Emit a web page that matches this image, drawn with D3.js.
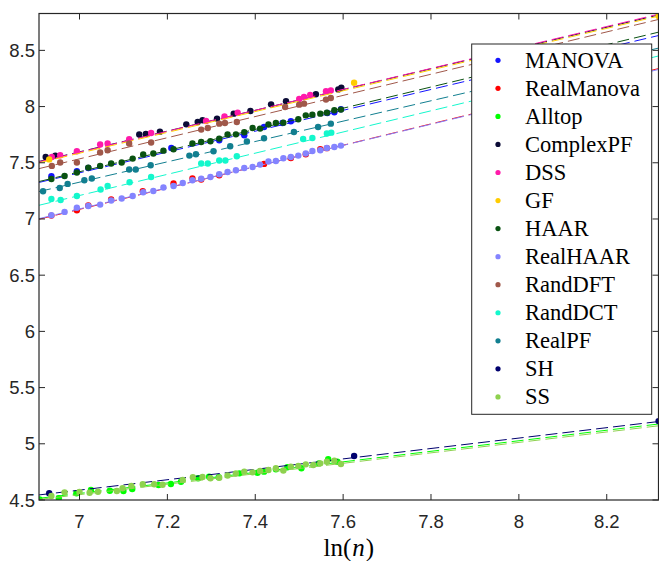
<!DOCTYPE html>
<html>
<head>
<meta charset="utf-8">
<script src="https://cdn.jsdelivr.net/npm/d3@7"></script>
<style>
  html, body { margin: 0; padding: 0; background: #fff; }
  svg { display: block; }
</style>
</head>
<body>
<svg id="chart" width="659" height="561"></svg>
<script>
var seriesNames = ["MANOVA", "RealManova", "Alltop", "ComplexPF", "DSS", "GF", "HAAR",
                   "RealHAAR", "RandDFT", "RandDCT", "RealPF", "SH", "SS"];
var seriesColors = ["#1414ff", "#ff0000", "#00ff00", "#0b0b36", "#ff1aaa", "#ffcc00", "#0a5212",
                    "#8484ff", "#a0584a", "#14f7cc", "#127f90", "#00006e", "#8ed14f"];

var xTicks = [7, 7.2, 7.4, 7.6, 7.8, 8, 8.2];
var yTicks = [4.5, 5, 5.5, 6, 6.5, 7, 7.5, 8, 8.5];

var manovaX = [6.936, 6.994, 7.020, 7.209, 7.318, 7.375, 7.420, 7.462, 7.481, 7.564, 7.580, 7.595];
var manovaY = [7.380, 7.424, 7.454, 7.632, 7.700, 7.744, 7.818, 7.854, 7.869, 7.943, 7.949, 7.976];

var realManovaX = [6.936, 6.994, 7.020, 7.072, 7.144, 7.214, 7.257, 7.277, 7.318, 7.420, 7.481, 7.515, 7.548, 7.563];
var realManovaY = [7.030, 7.078, 7.120, 7.173, 7.247, 7.315, 7.360, 7.351, 7.389, 7.490, 7.543, 7.576, 7.620, 7.630];

var alltopX = [6.909, 6.953, 6.993, 7.026, 7.069, 7.100, 7.120, 7.180, 7.208, 7.231, 7.270, 7.295,
               7.317, 7.364, 7.405, 7.420, 7.447, 7.473, 7.505, 7.545, 7.566, 7.587];
var alltopY = [4.506, 4.515, 4.560, 4.589, 4.582, 4.580, 4.598, 4.633, 4.642, 4.663, 4.693, 4.707,
               4.702, 4.737, 4.743, 4.752, 4.773, 4.791, 4.782, 4.826, 4.862, 4.840];

var complexPfX = [6.923, 6.945, 7.136, 7.151, 7.183, 7.243, 7.269, 7.280, 7.313, 7.351, 7.389, 7.436,
                  7.470, 7.538, 7.589, 7.596];
var complexPfY = [7.552, 7.564, 7.751, 7.756, 7.777, 7.842, 7.863, 7.878, 7.893, 7.937, 7.960, 8.020,
                  8.047, 8.109, 8.153, 8.168];

var dssX = [6.937, 6.956, 6.994, 7.047, 7.064, 7.113, 7.163, 7.288, 7.330, 7.360, 7.500, 7.511, 7.525, 7.561, 7.572];
var dssY = [7.552, 7.567, 7.602, 7.662, 7.671, 7.709, 7.765, 7.872, 7.913, 7.946, 8.067, 8.085, 8.103, 8.136, 8.144];

var gfX = [6.931, 7.625, 8.318];
var gfY = [7.530, 8.212, 8.805];

var haarX = [6.936, 6.966, 6.994, 7.020, 7.047, 7.072, 7.096, 7.121, 7.145, 7.168, 7.191, 7.214, 7.257,
             7.277, 7.298, 7.318, 7.337, 7.356, 7.375, 7.394, 7.411, 7.430, 7.447, 7.464, 7.498, 7.515,
             7.530, 7.548, 7.563, 7.580, 7.595];
var haarY = [7.356, 7.383, 7.413, 7.457, 7.472, 7.493, 7.502, 7.537, 7.573, 7.582, 7.608, 7.620, 7.671,
             7.685, 7.691, 7.715, 7.751, 7.753, 7.771, 7.809, 7.804, 7.840, 7.854, 7.857, 7.887, 7.922,
             7.928, 7.937, 7.946, 7.967, 7.973];

var realHaarX = [6.936, 6.966, 6.994, 7.020, 7.047, 7.072, 7.096, 7.121, 7.145, 7.168, 7.191, 7.214, 7.235,
                 7.257, 7.277, 7.298, 7.318, 7.337, 7.356, 7.375, 7.394, 7.411, 7.430, 7.447, 7.464, 7.481,
                 7.498, 7.515, 7.530, 7.548, 7.563, 7.580, 7.595];
var realHaarY = [7.033, 7.063, 7.100, 7.115, 7.128, 7.165, 7.182, 7.205, 7.238, 7.249, 7.280, 7.294, 7.320,
                 7.345, 7.358, 7.374, 7.398, 7.418, 7.433, 7.454, 7.463, 7.484, 7.511, 7.516, 7.540, 7.552,
                 7.564, 7.582, 7.605, 7.611, 7.632, 7.640, 7.653];

var randDftX = [6.937, 6.956, 6.994, 7.047, 7.064, 7.113, 7.163, 7.277, 7.292, 7.318, 7.331, 7.358,
                7.468, 7.500, 7.511, 7.561, 7.572];
var randDftY = [7.472, 7.502, 7.502, 7.591, 7.611, 7.671, 7.680, 7.795, 7.809, 7.848, 7.854, 7.863,
                7.996, 8.017, 8.026, 8.062, 8.076];

var randDctX = [6.936, 6.957, 6.994, 7.048, 7.064, 7.114, 7.163, 7.277, 7.292, 7.318, 7.332, 7.358,
                7.509, 7.530, 7.563, 7.573];
var randDctY = [7.178, 7.169, 7.204, 7.262, 7.293, 7.327, 7.374, 7.493, 7.493, 7.520, 7.520, 7.558,
                7.711, 7.721, 7.760, 7.768];

var realPfX = [6.917, 6.955, 6.973, 7.011, 7.028, 7.113, 7.128, 7.162, 7.250, 7.265, 7.305, 7.343,
               7.381, 7.420, 7.488, 7.543, 7.572];
var realPfY = [7.247, 7.276, 7.312, 7.344, 7.360, 7.440, 7.440, 7.478, 7.564, 7.576, 7.602, 7.647,
               7.689, 7.718, 7.774, 7.818, 7.848];

var shX = [6.931, 7.625, 8.318];
var shY = [4.560, 4.891, 5.202];

var ssX = [6.936, 6.966, 7.000, 7.023, 7.042, 7.085, 7.098, 7.118, 7.144, 7.170, 7.189, 7.235, 7.258,
           7.280, 7.298, 7.318, 7.337, 7.356, 7.375, 7.394, 7.411, 7.430, 7.447, 7.464, 7.481, 7.498,
           7.515, 7.532, 7.548, 7.563, 7.580, 7.595];
var ssY = [4.536, 4.568, 4.571, 4.565, 4.574, 4.580, 4.604, 4.624, 4.640, 4.640, 4.636, 4.678, 4.702,
           4.704, 4.693, 4.698, 4.718, 4.736, 4.752, 4.746, 4.758, 4.767, 4.782, 4.762, 4.796, 4.802,
           4.817, 4.811, 4.826, 4.840, 4.849, 4.820];

// dashed fit lines: value at left and right end of the x range
var fitLeft  = [7.325, 6.998, 4.515, 7.512, 7.508, 7.500, 7.333, 7.003, 7.448, 7.122, 7.244, 4.545, 4.505];
var fitRight = [8.632, 8.338, 5.176, 8.815, 8.822, 8.805, 8.662, 8.330, 8.775, 8.450, 8.520, 5.198, 5.160];

var allX = [manovaX, realManovaX, alltopX, complexPfX, dssX, gfX, haarX, realHaarX, randDftX, randDctX, realPfX, shX, ssX];
var allY = [manovaY, realManovaY, alltopY, complexPfY, dssY, gfY, haarY, realHaarY, randDftY, randDctY, realPfY, shY, ssY];

// LAYOUT
var plotL = 39, plotR = 658.5, plotT = 13.5, plotB = 500;
var xMin = 6.9078, xMax = 8.3178;

var x = d3.scaleLinear().domain([xMin, xMax]).range([plotL, plotR]);
var y = d3.scaleLinear().domain([4.5, 8.828]).range([plotB, plotT]);

var svg = d3.select("#chart");
var axisColor = "#262626";

svg.append("defs").append("clipPath").attr("id", "clip")
    .append("rect")
    .attr("x", plotL).attr("y", plotT)
    .attr("width", plotR - plotL).attr("height", plotB - plotT);

var plot = svg.append("g").attr("clip-path", "url(#clip)");

var line = d3.line()
    .x(function(d) { return x(d[0]); })
    .y(function(d) { return y(d[1]); });

// each series: points, then its dashed fit
for (var i = 0; i < seriesNames.length; i++) {
    var pts = allX[i].map(function(v, j) { return [v, allY[i][j]]; });

    plot.append("g").selectAll("circle")
        .data(pts)
      .enter().append("circle")
        .attr("cx", function(d) { return x(d[0]); })
        .attr("cy", function(d) { return y(d[1]); })
        .attr("r", 3.2)
        .style("fill", seriesColors[i]);

    plot.append("path")
        .datum([[xMin, fitLeft[i]], [xMax, fitRight[i]]])
        .attr("d", line)
        .style("fill", "none")
        .style("stroke", seriesColors[i])
        .style("stroke-width", 1)
        .style("stroke-dasharray", "12,5");
}

// AXES (box with inward ticks on all four sides)
var axes = svg.append("g");

axes.append("rect")
    .attr("x", plotL).attr("y", plotT)
    .attr("width", plotR - plotL).attr("height", plotB - plotT)
    .style("fill", "none")
    .style("stroke", axisColor)
    .style("stroke-width", 1.2);

var tickLen = 6;

xTicks.forEach(function(t) {
    var px = x(t);
    axes.append("line").attr("x1", px).attr("x2", px).attr("y1", plotB).attr("y2", plotB - tickLen)
        .style("stroke", axisColor);
    axes.append("line").attr("x1", px).attr("x2", px).attr("y1", plotT).attr("y2", plotT + tickLen)
        .style("stroke", axisColor);
    axes.append("text")
        .attr("x", px).attr("y", 528)
        .attr("text-anchor", "middle")
        .style("font-family", "'Liberation Sans', Arial, sans-serif")
        .style("font-size", "18.5px")
        .style("fill", axisColor)
        .text(d3.format("")(t));
});

yTicks.forEach(function(t) {
    var py = y(t);
    axes.append("line").attr("x1", plotL).attr("x2", plotL + tickLen).attr("y1", py).attr("y2", py)
        .style("stroke", axisColor);
    axes.append("line").attr("x1", plotR).attr("x2", plotR - tickLen).attr("y1", py).attr("y2", py)
        .style("stroke", axisColor);
    axes.append("text")
        .attr("x", 35).attr("y", py + 6.5)
        .attr("text-anchor", "end")
        .style("font-family", "'Liberation Sans', Arial, sans-serif")
        .style("font-size", "18.5px")
        .style("fill", axisColor)
        .text(d3.format("")(t));
});

// x label ln(n)
var xlab = svg.append("text")
    .attr("x", (plotL + plotR) / 2).attr("y", 556)
    .attr("text-anchor", "middle")
    .style("font-family", "'Liberation Serif', 'DejaVu Serif', serif")
    .style("font-size", "25px")
    .style("fill", "#000");
xlab.append("tspan").text("ln(");
xlab.append("tspan").style("font-style", "italic").attr("dx", 1).text("n");
xlab.append("tspan").attr("dx", 1).text(")");

// LEGEND
var legX = 471.7, legY = 44, legW = 180, legH = 370.3, rowH = 28.05;
var legend = svg.append("g");

legend.append("rect")
    .attr("x", legX).attr("y", legY)
    .attr("width", legW).attr("height", legH)
    .style("fill", "#fff")
    .style("stroke", axisColor)
    .style("stroke-width", 1);

seriesNames.forEach(function(name, i) {
    var cy = legY + 16.3 + i * rowH;
    legend.append("circle")
        .attr("cx", 498).attr("cy", cy).attr("r", 2.6)
        .style("fill", seriesColors[i]);
    legend.append("text")
        .attr("x", 525).attr("y", cy + 7.5)
        .style("font-family", "'Liberation Serif', 'DejaVu Serif', serif")
        .style("font-size", "22.5px")
        .style("fill", "#000")
        .text(name);
});
</script>
</body>
</html>
